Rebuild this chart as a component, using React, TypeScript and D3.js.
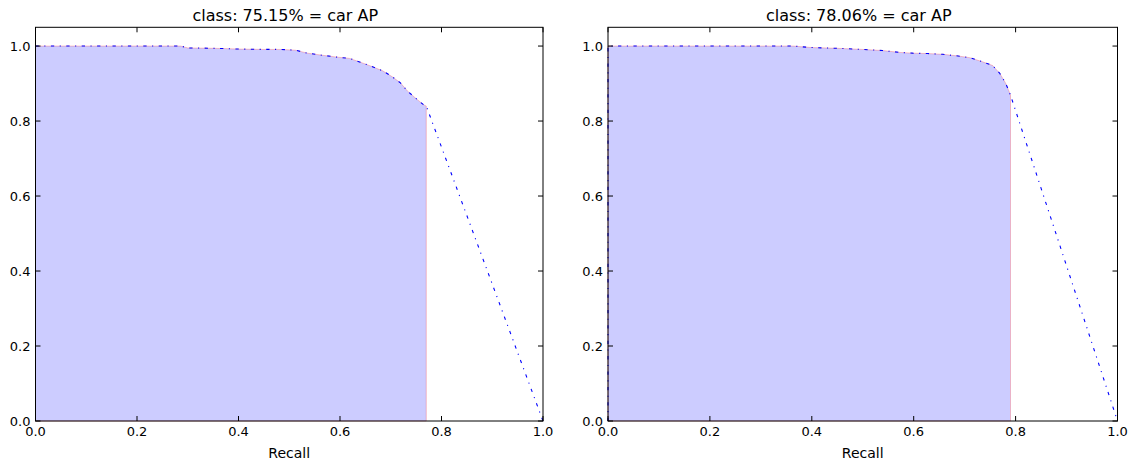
import React from "react";
import * as d3 from "d3";

const leftTitle = "class: 75.15% = car AP";
const rightTitle = "class: 78.06% = car AP";
const xLabel = "Recall";

const leftRecall = [0, 0.05, 0.1, 0.15, 0.2, 0.25, 0.286, 0.3, 0.35, 0.38, 0.4, 0.45, 0.483, 0.512, 0.536, 0.562, 0.591, 0.619, 0.64, 0.66, 0.684, 0.703, 0.719, 0.733, 0.749, 0.765, 0.77, 1.0];
const leftPrecision = [1.0, 1.0, 1.0, 1.0, 1.0, 1.0, 1.0, 0.995, 0.994, 0.993, 0.992, 0.991, 0.991, 0.989, 0.981, 0.976, 0.971, 0.967, 0.957, 0.947, 0.934, 0.918, 0.902, 0.88, 0.861, 0.843, 0.84, 0.0];

const rightRecall = [0, 0, 0.05, 0.1, 0.15, 0.2, 0.25, 0.3, 0.363, 0.4, 0.45, 0.5, 0.539, 0.573, 0.598, 0.627, 0.657, 0.684, 0.71, 0.735, 0.755, 0.769, 0.78, 0.786, 0.79, 1.0];
const rightPrecision = [0.0, 1.0, 1.0, 1.0, 1.0, 1.0, 1.0, 1.0, 1.0, 0.996, 0.994, 0.991, 0.988, 0.983, 0.981, 0.98, 0.978, 0.974, 0.969, 0.958, 0.948, 0.927, 0.902, 0.883, 0.869, 0.0];

const xTicks = [0, 0.2, 0.4, 0.6, 0.8, 1.0];
const yTicks = [0, 0.2, 0.4, 0.6, 0.8, 1.0];

const FONT = "'DejaVu Sans', sans-serif";

type PanelProps = {
  x0: number;
  x1: number;
  title: string;
  rec: number[];
  prec: number[];
};

function Panel({ x0, x1, title, rec, prec }: PanelProps) {
  const yTop = 27.3;
  const yBot = 421;
  const x = d3.scaleLinear().domain([0, 1]).range([x0, x1]);
  const y = d3.scaleLinear().domain([0, 1.05]).range([yBot, yTop]);
  const pts: [number, number][] = rec.map((r, i) => [r, prec[i]]);
  const line = d3
    .line<[number, number]>()
    .x((d) => x(d[0]))
    .y((d) => y(d[1]));
  // area under curve: all points except final (1.0, 0.0)
  const areaPts = pts.slice(0, pts.length - 1);
  const lastRec = areaPts[areaPts.length - 1][0];
  const fillPts: [number, number][] = [...areaPts, [lastRec, 0], [areaPts[0][0], 0]];
  const fillPath = line(fillPts) + "Z";
  const tick = 5;
  return (
    <g>
      <path d={fillPath} fill="#ccccff" stroke="rgba(255,0,0,0.22)" strokeWidth={1} />
      <path
        d={line(pts) || ""}
        fill="none"
        stroke="#0000ff"
        strokeWidth={1.1}
        strokeDasharray="3.3,5.5,1.1,5.5"
      />
      {xTicks.map((t) => (
        <g key={"x" + t}>
          <line x1={x(t)} x2={x(t)} y1={yBot} y2={yBot - tick} stroke="#000" strokeWidth={1} />
          <line x1={x(t)} x2={x(t)} y1={yTop} y2={yTop + tick} stroke="#000" strokeWidth={1} />
          <text x={x(t)} y={436} textAnchor="middle" fontSize={13} fontFamily={FONT} fill="#000">
            {t.toFixed(1)}
          </text>
        </g>
      ))}
      {yTicks.map((t) => (
        <g key={"y" + t}>
          <line x1={x0} x2={x0 + tick} y1={y(t)} y2={y(t)} stroke="#000" strokeWidth={1} />
          <line x1={x1} x2={x1 - tick} y1={y(t)} y2={y(t)} stroke="#000" strokeWidth={1} />
          <text x={x0 - 5} y={y(t) + 4.7} textAnchor="end" fontSize={13} fontFamily={FONT} fill="#000">
            {t.toFixed(1)}
          </text>
        </g>
      ))}
      <rect x={x0} y={yTop} width={x1 - x0} height={yBot - yTop} fill="none" stroke="#000" strokeWidth={1} />
      <text x={(x0 + x1) / 2 - 4} y={21} textAnchor="middle" fontSize={16} fontFamily={FONT} fill="#000">
        {title}
      </text>
      <text x={(x0 + x1) / 2} y={458} textAnchor="middle" fontSize={14} fontFamily={FONT} fill="#000">
        {xLabel}
      </text>
    </g>
  );
}

export default function App() {
  return (
    <svg
      width={1136}
      height={465}
      style={{ position: "absolute", left: 0, top: 0, background: "#fff" }}
    >
      <rect x={0} y={0} width={1136} height={465} fill="#fff" />
      <Panel x0={35.5} x1={543} title={leftTitle} rec={leftRecall} prec={leftPrecision} />
      <Panel x0={608} x1={1117.5} title={rightTitle} rec={rightRecall} prec={rightPrecision} />
    </svg>
  );
}
